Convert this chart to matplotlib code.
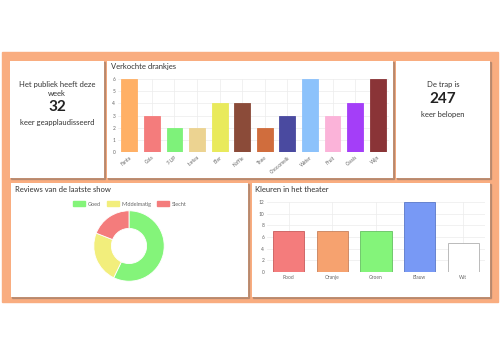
import matplotlib
matplotlib.use("Agg")
import matplotlib.pyplot as plt
from matplotlib.patches import Rectangle

plt.rcParams['font.family'] = ['Lato', 'DejaVu Sans']

# Data
drinks = ['Fanta', 'Cola', '7-UP', 'Icetea', 'Bier', 'Koffie', 'Thee', 'Chocomelk',
          'Water', 'Fruit', 'Cassis', 'Wijn']
drink_counts = [6, 3, 2, 2, 4, 4, 2, 3, 6, 3, 4, 6]
drink_colors = ['#ffb066', '#f47c7c', '#7ef27a', '#ecd391', '#e9ea5c', '#8b4b39',
                '#d06d3d', '#4a4aa0', '#8cc2fb', '#fbb3d9', '#a43ef8', '#8a3437']

review_labels = ['Goed', 'Middelmatig', 'Slecht']
review_counts = [12, 5, 4]
review_colors = ['#84f47a', '#f2ee7c', '#f47c7c']

theater_colors = ['Rood', 'Oranje', 'Groen', 'Blauw', 'Wit']
theater_counts = [7, 7, 7, 12, 5]
theater_fill = ['#f47c7c', '#f6a26f', '#84f47a', '#7899f5', '#ffffff']
theater_edge = ['#c85a5a', '#c7805a', '#64c060', '#5a78c8', '#b0b0b0']

applause = 32
stairs = 247

W, H = 500, 357
fig = plt.figure(figsize=(W / 100, H / 100), dpi=100)

# background in pixel coords
bg = fig.add_axes([0, 0, 1, 1], zorder=-5)
bg.set_xlim(0, W)
bg.set_ylim(H, 0)
bg.axis('off')
bg.add_patch(Rectangle((2, 52), 496, 250, color='#f9ad80'))

boxes = [(10, 61, 94, 117), (107, 61, 286, 117), (396, 61, 94, 117),
         (11, 183, 237, 114), (252, 183, 238, 114)]
for x, y, w, h in boxes:
    bg.add_patch(Rectangle((x + 1.2, y + 1.2), w, h, color='#7a6a60', alpha=0.4))
    bg.add_patch(Rectangle((x, y), w, h, facecolor='white', edgecolor='none'))


def px_axes(x0, y0, x1, y1):
    return fig.add_axes([x0 / W, 1 - y1 / H, (x1 - x0) / W, (y1 - y0) / H])


def fx(x):
    return x / W


def fy(y):
    return 1 - y / H


# text cards
fig.text(fx(57), fy(84), 'Het publiek heeft deze', ha='center', va='center', fontsize=5.5, color='#333333')
fig.text(fx(57), fy(93), 'week', ha='center', va='center', fontsize=5.5, color='#333333')
fig.text(fx(57), fy(107), str(applause), ha='center', va='center', fontsize=11, fontweight='bold', color='#222222')
fig.text(fx(57), fy(122), 'keer geapplaudisseerd', ha='center', va='center', fontsize=5.5, color='#333333')

fig.text(fx(443), fy(84), 'De trap is', ha='center', va='center', fontsize=5.5, color='#333333')
fig.text(fx(443), fy(99), str(stairs), ha='center', va='center', fontsize=11, fontweight='bold', color='#222222')
fig.text(fx(443), fy(114), 'keer belopen', ha='center', va='center', fontsize=5.5, color='#333333')

# titles
fig.text(fx(111), fy(67), 'Verkochte drankjes', ha='left', va='center', fontsize=5.5, color='#333333')
fig.text(fx(15), fy(189), 'Reviews van de laatste show', ha='left', va='center', fontsize=5.5, color='#333333')
fig.text(fx(255), fy(190), 'Kleuren in het theater', ha='left', va='center', fontsize=5.5, color='#333333')


def style(ax):
    ax.set_facecolor('none')
    for s in ax.spines.values():
        s.set_visible(False)
    ax.grid(True, color='#ececec', linewidth=0.5)
    ax.set_axisbelow(True)
    ax.tick_params(length=0, labelsize=3.5, colors='#666666', pad=2)


# drinks bar chart
ax1 = px_axes(118, 79, 389, 152)
style(ax1)
x = range(len(drinks))
ax1.bar(x, drink_counts, width=0.7, color=drink_colors,
        edgecolor=drink_colors, linewidth=0.6)
ax1.set_xlim(-0.5, len(drinks) - 0.5)
ax1.set_ylim(0, 6)
ax1.set_yticks(range(0, 7))
ax1.set_xticks(list(x))
ax1.set_xticklabels(drinks, rotation=40, ha='right', rotation_mode='anchor')

# doughnut
ax2 = px_axes(85, 202, 173, 290)
ax2.set_facecolor('none')
ax2.pie(review_counts, colors=review_colors, startangle=90, counterclock=False,
        wedgeprops=dict(width=0.5, edgecolor='white', linewidth=0.6))
ax2.set_aspect('equal')
handles = [Rectangle((0, 0), 1, 1, color=c) for c in review_colors]
fig.legend(handles, review_labels, loc='center', bbox_to_anchor=(fx(130), fy(204)),
           ncol=3, frameon=False, fontsize=4, handlelength=2.2, handleheight=0.9,
           columnspacing=1.0, handletextpad=0.5, labelcolor='#666666')

# theater colors bar chart
ax3 = px_axes(267, 202, 485, 272)
style(ax3)
x3 = range(len(theater_colors))
ax3.bar(x3, theater_counts, width=0.72, color=theater_fill, edgecolor=theater_edge, linewidth=0.6)
ax3.set_xlim(-0.5, len(theater_colors) - 0.5)
ax3.set_ylim(0, 12)
ax3.set_yticks(range(0, 13, 2))
ax3.set_xticks(list(x3))
ax3.set_xticklabels(theater_colors)

fig.savefig('out.png', dpi=100)
